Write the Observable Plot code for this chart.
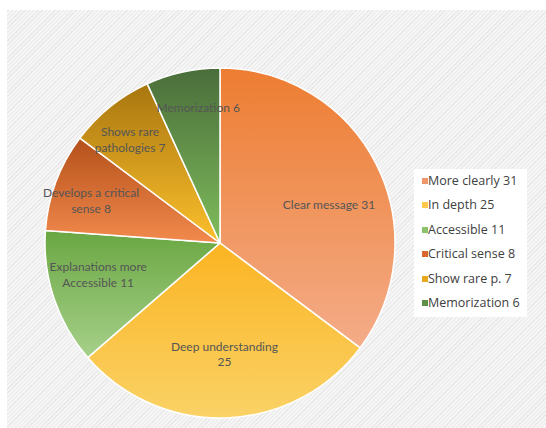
<!DOCTYPE html>
<html><head><meta charset="utf-8">
<script src="https://cdn.jsdelivr.net/npm/d3@7"></script>
<script src="https://cdn.jsdelivr.net/npm/@observablehq/plot@0.6"></script>
<style>
body{margin:0;background:#fff}
#wrap{position:relative;width:546px;height:428px;overflow:hidden;background:#fff}
#bg{position:absolute;left:7px;top:10px;right:0;bottom:0;
 background:repeating-linear-gradient(-45deg,#e9e9e9 0 1px,#f5f5f5 1px 3px)}
#chart{position:absolute;left:0;top:0}
#legend{position:absolute;left:414px;top:169px;width:113px;height:148px;background:#fff;
 font-family:"Open Sans",sans-serif;font-size:12.5px;color:#404040}
#legend .it{height:24.4px;line-height:24.4px;white-space:nowrap;position:relative;padding-left:14px}
#legend .sw{position:absolute;left:8px;top:9px;width:6px;height:6px}
</style></head>
<body><div id="wrap"><div id="bg"></div><div id="chart"></div><div id="legend"></div></div>
<script>
// ---- data ----
const categories = ["Clear message 31", "Deep understanding\n25", "Explanations more\nAccessible 11",
                    "Develops a critical\nsense 8", "Shows rare\npathologies 7", "Memorization 6"];
const values = [31, 25, 11, 8, 7, 6];
const legendLabels = ["More clearly 31", "In depth 25", "Accessible 11", "Critical sense 8", "Show rare p. 7", "Memorization 6"];
const colorTop    = ["#ED7D31", "#FBB422", "#6AA742", "#B4501A", "#A8760F", "#4A6D3A"];
const colorBottom = ["#F4AC88", "#FAD266", "#A6D08A", "#F28A4D", "#FCC02C", "#7FBD5C"];
const legendColors = ["#F1956A", "#FCC94A", "#8CC26C", "#D9692F", "#E8A81E", "#5E8F46"];

// ---- layout (label placement: radius fraction, angle offset in degrees) ----
const labelR = [0.66, 0.63, 0.72, 0.78, 0.79, 0.79];
const labelDA = [6.5, 0, 4.5, -2, -2, 3];

const arcs = d3.pie().sort(null).value(d => d)(values);
const table = arcs.map((a, i) => {
  const mid = (a.startAngle + a.endAngle) / 2 + labelDA[i] * Math.PI / 180;
  return {i, label: categories[i], value: values[i], startAngle: a.startAngle, endAngle: a.endAngle,
          lx: labelR[i] * Math.sin(mid), ly: labelR[i] * Math.cos(mid)};
});

function pieMark(index, scales, values_, dimensions) {
  const sx = scales && scales.x ? scales.x : d3.scaleLinear([-1, 1], [45, 395]);
  const sy = scales && scales.y ? scales.y : d3.scaleLinear([-1, 1], [418, 68]);
  const cx = sx(0), cy = sy(0), r = sx(1) - sx(0);
  const svgNS = "http://www.w3.org/2000/svg";
  const g = d3.create("svg:g");
  const defs = g.append("defs");
  table.forEach(d => {
    const lg = defs.append("linearGradient").attr("id", "grad" + d.i)
      .attr("x1", 0).attr("y1", 0).attr("x2", 0).attr("y2", 1);
    lg.append("stop").attr("offset", "0%").attr("stop-color", colorTop[d.i]);
    lg.append("stop").attr("offset", "100%").attr("stop-color", colorBottom[d.i]);
  });
  const arc = d3.arc().innerRadius(0).outerRadius(r);
  g.append("g").attr("transform", `translate(${cx},${cy})`)
    .selectAll("path").data(table).join("path")
    .attr("d", d => arc(d))
    .attr("fill", d => `url(#grad${d.i})`)
    .attr("stroke", "#fff").attr("stroke-width", 1.5).attr("stroke-linejoin", "round");
  return g.node();
}

const chart = Plot.plot({
  width: 546, height: 428,
  marginLeft: 45, marginRight: 151, marginTop: 68, marginBottom: 10,
  x: {domain: [-1, 1], axis: null},
  y: {domain: [-1, 1], axis: null},
  style: {background: "transparent", overflow: "visible"},
  marks: [
    pieMark,
    Plot.text(table, {x: "lx", y: "ly", text: "label", fill: "#555555", fontSize: 12,
      fontFamily: "Lato, sans-serif", lineHeight: 1.3, textAnchor: "middle"})
  ]
});
document.getElementById("chart").appendChild(chart);

const legend = d3.select("#legend");
legendLabels.forEach((t, i) => {
  const it = legend.append("div").attr("class", "it");
  it.append("span").attr("class", "sw").style("background", legendColors[i]);
  it.append("span").text(t);
});
</script></body></html>
